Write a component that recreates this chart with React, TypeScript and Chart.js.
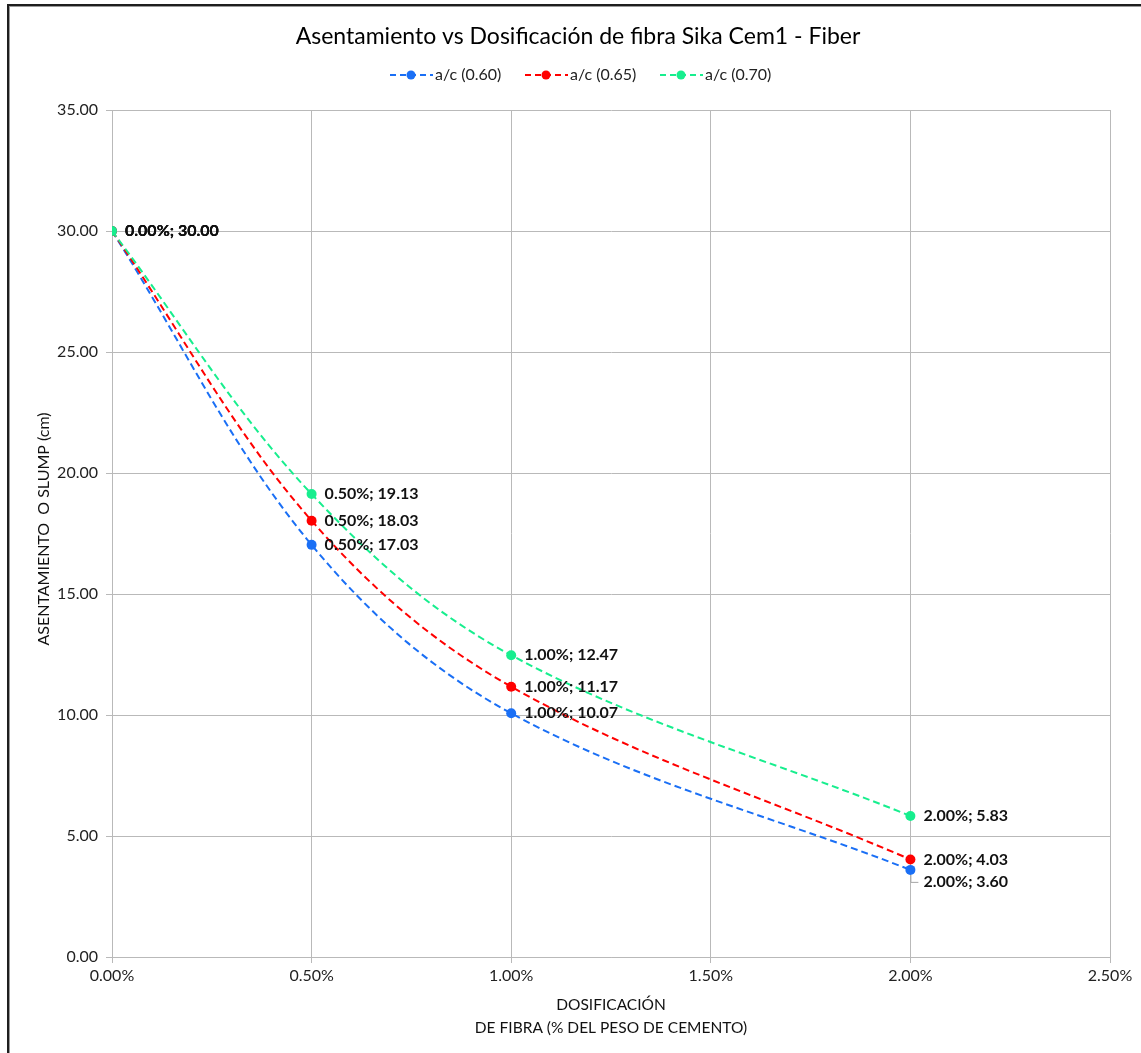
import React, { useEffect, useRef } from "react";
import { Chart, registerables } from "chart.js";

Chart.register(...registerables);

const TITLE = "Asentamiento vs Dosificación de fibra Sika Cem1 - Fiber";
const X_TITLE = ["DOSIFICACIÓN", "DE FIBRA (% DEL PESO DE CEMENTO)"];
const Y_TITLE = "ASENTAMIENTO  O SLUMP (cm)";

const dosage = [0, 0.5, 1.0, 2.0];
const seriesNames = ["a/c (0.60)", "a/c (0.65)", "a/c (0.70)"];
const slump060 = [30.0, 17.03, 10.07, 3.6];
const slump065 = [30.0, 18.03, 11.17, 4.03];
const slump070 = [30.0, 19.13, 12.47, 5.83];
const seriesColors = ["#1a6ff5", "#ff0000", "#17ee8e"];

const FONT = "Lato, 'Noto Sans', sans-serif";

export default function App() {
  const ref = useRef<HTMLCanvasElement | null>(null);

  useEffect(() => {
    if (!ref.current) return;
    const values = [slump060, slump065, slump070];
    const datasets = values.map((vals, i) => ({
      label: seriesNames[i],
      data: dosage.map((x, j) => ({ x, y: vals[j] })),
      borderColor: seriesColors[i],
      backgroundColor: seriesColors[i],
      borderWidth: 2,
      borderDash: [7, 4],
      pointRadius: 5,
      pointHoverRadius: 5,
      pointBorderWidth: 0,
      tension: 0.35,
      showLine: true,
      order: 2 - i,
    }));

    const overlay = {
      id: "overlay",
      afterDraw(chart: any) {
        const ctx = chart.ctx as CanvasRenderingContext2D;
        const area = chart.chartArea;
        ctx.save();
        // Title
        ctx.fillStyle = "#000";
        ctx.font = `23px ${FONT}`;
        ctx.textAlign = "center";
        ctx.textBaseline = "middle";
        ctx.fillText(TITLE, 578, 37);

        // Legend
        const legendX = [390, 525, 660];
        ctx.font = `16px ${FONT}`;
        legendX.forEach((lx, i) => {
          const y = 75;
          ctx.strokeStyle = seriesColors[i];
          ctx.lineWidth = 2;
          ctx.setLineDash([6, 4]);
          ctx.beginPath();
          ctx.moveTo(lx, y);
          ctx.lineTo(lx + 43, y);
          ctx.stroke();
          ctx.setLineDash([]);
          ctx.fillStyle = seriesColors[i];
          ctx.beginPath();
          ctx.arc(lx + 21, y, 4.5, 0, Math.PI * 2);
          ctx.fill();
          ctx.fillStyle = "#222";
          ctx.textAlign = "left";
          ctx.fillText(seriesNames[i], lx + 45, y);
        });

        // Axis titles
        ctx.fillStyle = "#111";
        ctx.font = `15.5px ${FONT}`;
        ctx.textAlign = "center";
        const cx = (area.left + area.right) / 2;
        ctx.fillText(X_TITLE[0], cx, 1005);
        ctx.fillText(X_TITLE[1], cx, 1028);
        ctx.save();
        ctx.translate(44, 529);
        ctx.rotate(-Math.PI / 2);
        ctx.font = `16px ${FONT}`;
        ctx.fillText(Y_TITLE, 0, 0);
        ctx.restore();

        // Data labels
        ctx.font = `bold 16px ${FONT}`;
        ctx.textAlign = "left";
        ctx.fillStyle = "#111";
        chart.data.datasets.forEach((ds: any, di: number) => {
          const meta = chart.getDatasetMeta(di);
          meta.data.forEach((pt: any, pi: number) => {
            const d = ds.data[pi];
            const txt = `${d.x.toFixed(2)}%; ${d.y.toFixed(2)}`;
            let dy = 0;
            if (di === 0 && pi === 3) {
              dy = 12;
              ctx.strokeStyle = "#a6a6a6";
              ctx.lineWidth = 1;
              ctx.beginPath();
              ctx.moveTo(pt.x + 0.5, pt.y + 5);
              ctx.lineTo(pt.x + 0.5, pt.y + dy + 0.5);
              ctx.lineTo(pt.x + 8, pt.y + dy + 0.5);
              ctx.stroke();
            }
            ctx.fillText(txt, pt.x + 13, pt.y + dy);
          });
        });
        ctx.restore();
      },
    };

    const chart = new Chart(ref.current, {
      type: "scatter",
      data: { datasets },
      options: {
        animation: false,
        responsive: false,
        maintainAspectRatio: false,
        layout: { padding: { left: 0, top: 110, right: 31, bottom: 0 } },
        plugins: {
          legend: { display: false },
          title: { display: false },
          tooltip: { enabled: false },
        },
        scales: {
          x: {
            type: "linear",
            min: 0,
            max: 2.5,
            ticks: {
              stepSize: 0.5,
              color: "#222",
              font: { family: FONT, size: 16 },
              padding: 3,
              callback: (v: any) => Number(v).toFixed(2) + "%",
            },
            grid: { color: "#b9b9b9", lineWidth: 1, tickLength: 6 },
            border: { color: "#b9b9b9" },
            afterFit: (s: any) => {
              s.height = 96;
            },
          },
          y: {
            type: "linear",
            min: 0,
            max: 35,
            ticks: {
              stepSize: 5,
              color: "#222",
              font: { family: FONT, size: 16 },
              padding: 8,
              callback: (v: any) => Number(v).toFixed(2),
            },
            grid: { color: "#b9b9b9", lineWidth: 1, tickLength: 6 },
            border: { color: "#b9b9b9" },
            afterFit: (s: any) => {
              s.width = 112;
            },
          },
        },
      },
      plugins: [overlay],
    });
    return () => chart.destroy();
  }, []);

  return (
    <div
      style={{
        position: "fixed",
        left: 0,
        top: 0,
        width: 1141,
        height: 1053,
        overflow: "hidden",
        background: "#fff",
      }}
    >
      <div
        style={{
          position: "absolute",
          left: 7,
          top: 4,
          width: 1200,
          height: 1100,
          border: "2px solid #1e1e1e",
          boxShadow: "1px 1px 0 #9a9a9a inset",
        }}
      />
      <canvas
        ref={ref}
        width={1141}
        height={1053}
        style={{ position: "absolute", left: 0, top: 0, width: 1141, height: 1053 }}
      />
    </div>
  );
}
